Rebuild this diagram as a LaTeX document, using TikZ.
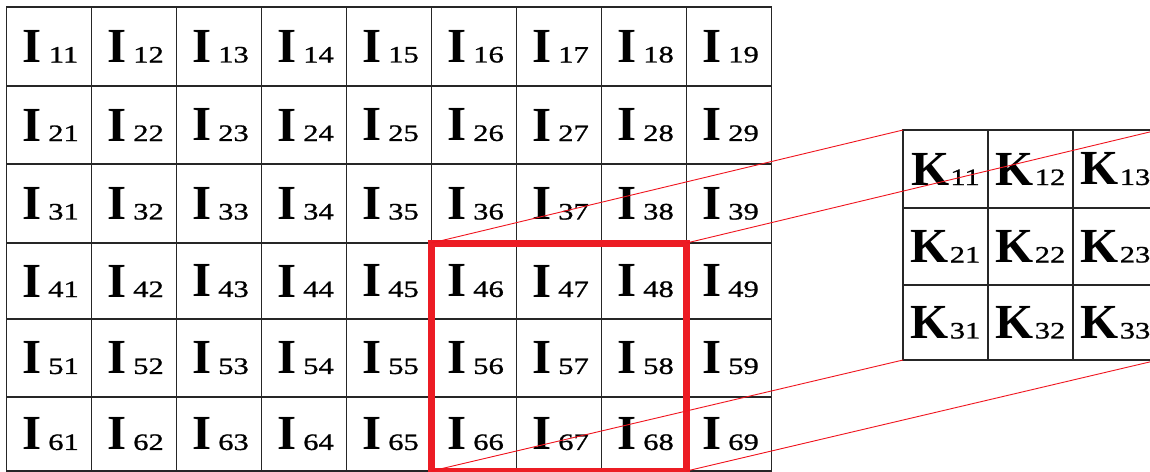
\documentclass[tikz,border=0pt]{standalone}
\usepackage{fontspec}
\setmainfont{Liberation Serif}
\newfontfamily\digfont[FakeStretch=1.3,FakeBold=1]{Liberation Serif}
\newcommand\bigletter[1]{{\fontsize{49}{49}\selectfont\bfseries #1}}
\newcommand\cellsub[2]{{\digfont\fontsize{23.5}{23.5}\selectfont #1#2}}
\definecolor{boxred}{RGB}{236,28,36}
\definecolor{projred}{RGB}{240,20,30}
\tikzset{
  gridcell/.style={draw=black!85, line width=1.4pt, inner sep=0pt, outer sep=0pt,
    minimum width=85pt, anchor=north west, align=center},
  redbox/.style={draw=boxred, line width=7pt},
  proj/.style={draw=projred, line width=0.9pt},
}
\begin{document}
\begin{tikzpicture}[x=1pt,y=-1pt]
\useasboundingbox (0,0) rectangle (1150,471);
\fill[white] (0,0) rectangle (1150,471);
% input grid
\foreach \r/\top/\h in {1/7/79,2/86/78,3/164/79,4/243/76,5/319/78,6/397/74}{
  \foreach \c in {1,...,9}{
    \node[gridcell, minimum height=\h pt] (I-\r-\c) at ({6.5+(\c-1)*85},\top)
      {\hspace*{3pt}\bigletter{I}\kern7pt\cellsub{\r}{\c}};
  }
}
% kernel grid
\foreach \r/\top/\h in {1/130/78,2/208/77,3/285/75}{
  \foreach \c in {1,2,3}{
    \node[gridcell, minimum height=\h pt] (K-\r-\c) at ({903+(\c-1)*85},\top)
      {\bigletter{K}\kern1pt\cellsub{\r}{\c}};
  }
}
% highlighted window
\draw[redbox] (I-4-6.north west) rectangle (I-6-8.south east);
% projection lines
\draw[proj] (I-4-6.north west) -- (K-1-1.north west);
\draw[proj] (I-4-8.north east) -- (K-1-3.north east);
\draw[proj] (I-6-6.south west) -- (K-3-1.south west);
\draw[proj] (I-6-8.south east) -- (K-3-3.south east);
\end{tikzpicture}
\end{document}
